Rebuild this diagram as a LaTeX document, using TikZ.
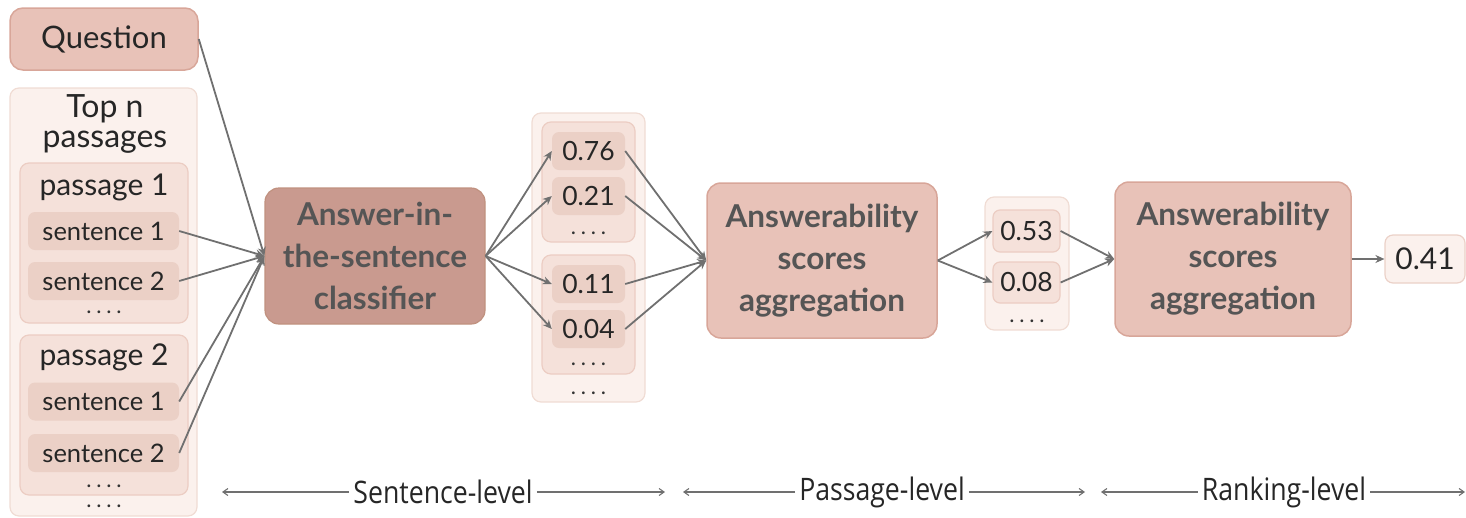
\documentclass[tikz,border=0pt]{standalone}
\usepackage{fontspec}
\setmainfont{Lato}
\newfontfamily\condfont[FakeStretch=0.86]{Open Sans}
\usetikzlibrary{arrows.meta,positioning}

\definecolor{edgegray}{HTML}{707070}
\definecolor{txtgray}{HTML}{555555}
\definecolor{paleFill}{HTML}{FBF1ED}
\definecolor{paleLine}{HTML}{F0DCD4}
\definecolor{midFill}{HTML}{F5E1DA}
\definecolor{midLine}{HTML}{ECCDC3}
\definecolor{deepFill}{HTML}{EBD0C6}
\definecolor{aggFill}{HTML}{E8C2B8}
\definecolor{aggLine}{HTML}{D8A699}
\definecolor{clsFill}{HTML}{C99A8F}
\definecolor{clsLine}{HTML}{C0917F}

\newcommand{\fourdots}{.\hspace{0.22em}.\hspace{0.22em}.\hspace{0.22em}.}

\tikzset{
  panel/.style={draw=paleLine, fill=paleFill, line width=1.2pt, rounded corners=9pt},
  group/.style={draw=midLine, fill=midFill, line width=1.2pt, rounded corners=9pt},
  item/.style={fill=deepFill, rounded corners=7pt, inner sep=0pt, text=black!85,
               font=\fontsize{25.5}{27}\selectfont},
  score/.style={item, minimum width=73pt, minimum height=38pt, font=\fontsize{26.5}{28}\selectfont},
  stage/.style={draw=aggLine, fill=aggFill, line width=1.5pt, rounded corners=14pt,
                align=center, text=txtgray, font=\fontsize{31.5}{42}\selectfont\bfseries},
  caption/.style={inner sep=0pt, text=black!85, font=\fontsize{30}{32}\selectfont},
  dots/.style={inner sep=0pt, text height=4pt, text depth=0pt, text=black!80,
               font=\fontsize{22}{22}\selectfont},
  flow/.style={draw=edgegray, line width=1.8pt, -{Stealth[length=9pt,width=8pt]}},
  span/.style={draw=edgegray, line width=1.1pt, -{Straight Barb[length=5pt,width=7pt]}},
  levelname/.style={inner sep=4pt, text=black!85, font=\condfont\fontsize{31}{33}\selectfont}
}

\begin{document}
\begin{tikzpicture}[x=1pt,y=-1pt]
\useasboundingbox (0,0) rectangle (1466,517);

% question
\node[draw=aggLine, fill=aggFill, line width=1.5pt, rounded corners=13pt,
      minimum width=188pt, minimum height=62pt, text=black!85,
      font=\fontsize{31}{33}\selectfont] (question) at (104,39) {Question};

% retrieved passages
\node[panel, minimum width=187pt, minimum height=428pt] (passages) at (103.5,302) {};
\node[caption, align=center, font=\fontsize{32}{30}\selectfont] (topn) at (105,124) {Top n\\passages};

\node[group, minimum width=168pt, minimum height=160pt] (p1) at (104,243) {};
\node[caption] (p1title) at (104,187) {passage 1};
\node[item, minimum width=151pt, minimum height=38pt] (p1s1) at (103.5,231) {sentence 1};
\node[item, minimum width=151pt, minimum height=38pt] (p1s2) at (103.5,281) {sentence 2};
\node[dots] (p1dots) at (104,311) {\fourdots};

\node[group, minimum width=168pt, minimum height=160pt] (p2) at (104,415) {};
\node[caption] (p2title) at (104,357) {passage 2};
\node[item, minimum width=151pt, minimum height=38pt] (p2s1) at (103.5,401.5) {sentence 1};
\node[item, minimum width=151pt, minimum height=38pt] (p2s2) at (103.5,453) {sentence 2};
\node[dots] (p2dots) at (104,485) {\fourdots};
\node[dots] (pdots) at (104,505) {\fourdots};

% sentence classifier
\node[draw=clsLine, fill=clsFill, line width=1.2pt, rounded corners=14pt,
      minimum width=220pt, minimum height=136pt, align=center, text=txtgray,
      font=\fontsize{31.5}{42}\selectfont\bfseries] (cls) at (375,256)
      {Answer-in-\\the-sentence\\classifier};

% sentence scores
\node[panel, minimum width=113pt, minimum height=289pt] (sscores) at (588.5,257.5) {};
\node[group, minimum width=93pt, minimum height=120pt] (g1) at (588.5,182) {};
\node[group, minimum width=93pt, minimum height=119pt] (g2) at (588.5,314.5) {};
\node[score] (s1) at (588.5,151) {0.76};
\node[score] (s2) at (588.5,196) {0.21};
\node[dots] (g1dots) at (588.5,232) {\fourdots};
\node[score] (s3) at (588.5,284) {0.11};
\node[score] (s4) at (588.5,329) {0.04};
\node[dots] (g2dots) at (588.5,363) {\fourdots};
\node[dots] (sdots) at (588.5,392) {\fourdots};

% first aggregation
\node[stage, minimum width=230pt, minimum height=155pt] (agg1) at (822,260.5)
      {Answerability\\scores\\aggregation};

% passage scores
\node[panel, minimum width=84pt, minimum height=133pt] (pscores) at (1027,263.5) {};
\node[score, draw=midLine, fill=midFill, line width=1.2pt, minimum width=67pt,
      minimum height=42pt] (q1) at (1026.5,231) {0.53};
\node[score, draw=midLine, fill=midFill, line width=1.2pt, minimum width=67pt,
      minimum height=41pt] (q2) at (1026.5,282.5) {0.08};
\node[dots] (qdots) at (1027,320) {\fourdots};

% second aggregation
\node[stage, minimum width=236pt, minimum height=154pt] (agg2) at (1233,259)
      {Answerability\\scores\\aggregation};

% final score
\node[draw=paleLine!80!aggLine, fill=paleFill, line width=1.2pt, rounded corners=8pt,
      minimum width=80pt, minimum height=48pt, inner sep=0pt, text=black!85,
      font=\fontsize{30}{32}\selectfont] (final) at (1425,259) {0.41};

% connectors into the classifier
\coordinate (clsin) at (cls.west);
\draw[flow] (question.east) -- (clsin);
\draw[flow] (p1s1.east) -- (clsin);
\draw[flow] (p1s2.east) -- (clsin);
\draw[flow] (p2s1.east) -- (clsin);
\draw[flow] (p2s2.east) -- (clsin);

% classifier to sentence scores
\foreach \s in {s1,s2,s3,s4} \draw[flow] (cls.east) -- (\s.west);
% sentence scores to first aggregation
\foreach \s in {s1,s2,s3,s4} \draw[flow] (\s.east) -- (agg1.west);
% first aggregation to passage scores
\foreach \s in {q1,q2} \draw[flow] (agg1.east) -- (\s.west);
% passage scores to second aggregation
\foreach \s in {q1,q2} \draw[flow] (\s.east) -- (agg2.west);
% final
\draw[flow] (agg2.east) -- (final.west);

% level spans
\node[levelname] (lvs) at (443,492) {Sentence-level};
\node[levelname] (lvp) at (882,492) {Passage-level};
\node[levelname] (lvr) at (1284,492) {Ranking-level};
\coordinate (lvsA) at (222,492);
\coordinate (lvsB) at (665,492);
\coordinate (lvpA) at (683,492);
\coordinate (lvpB) at (1085,492);
\coordinate (lvrA) at (1101,492);
\coordinate (lvrB) at (1465,492);
\draw[span] (lvs.west) -- (lvsA);
\draw[span] (lvs.east) -- (lvsB);
\draw[span] (lvp.west) -- (lvpA);
\draw[span] (lvp.east) -- (lvpB);
\draw[span] (lvr.west) -- (lvrA);
\draw[span] (lvr.east) -- (lvrB);
\end{tikzpicture}
\end{document}
